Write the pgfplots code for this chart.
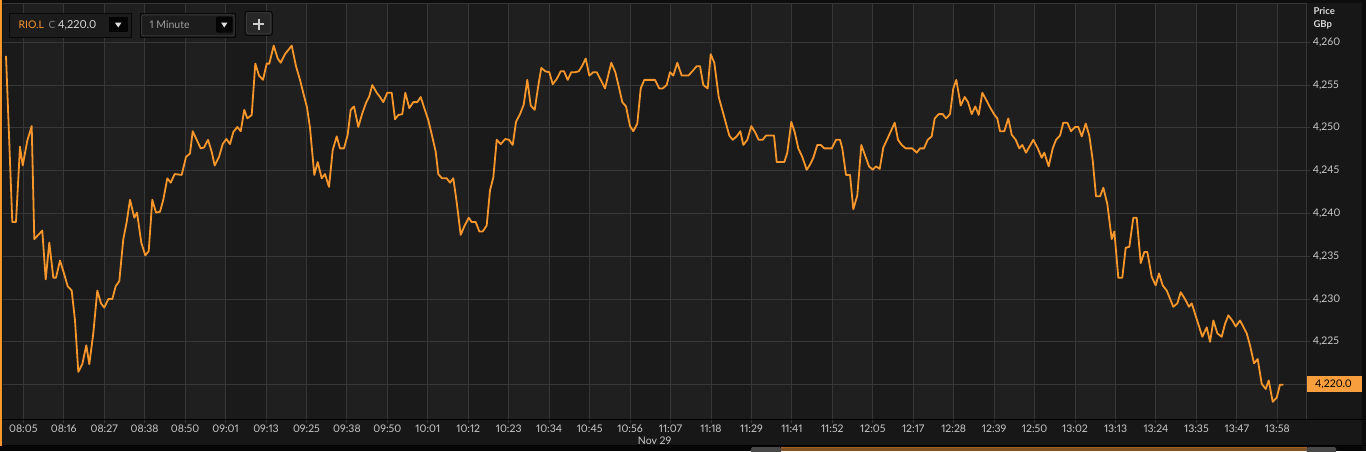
\documentclass[border=0pt]{standalone}
\usepackage{pgfplots}
\usepackage{pgfplotstable}
\pgfplotsset{compat=1.18}
\usepackage{fontspec}
\setmainfont{Lato}[Numbers={Proportional,Lining}]
\definecolor{pagebg}{HTML}{141414}
\definecolor{bgA}{HTML}{1A1A1A}
\definecolor{bgB}{HTML}{1F1F1F}
\definecolor{gridc}{HTML}{373737}
\definecolor{lineo}{HTML}{F7962B}
\definecolor{txt}{HTML}{CACACA}
\definecolor{strip}{HTML}{171717}
\definecolor{brownbar}{HTML}{7F5326}
\definecolor{boxbg}{HTML}{1C1C1C}
\definecolor{boxbd}{HTML}{080808}

\pgfplotstableread{
t v
6 4258.4
12.3 4239.0
16 4239.0
20 4247.8
22.7 4245.6
27.3 4248.5
31.7 4250.2
34.3 4237.0
42.3 4238.0
45.7 4232.3
49.3 4236.6
53.3 4232.5
56 4232.5
60 4234.5
64 4233.0
67.7 4231.5
71.7 4231.0
75 4227.5
78.3 4221.5
82.3 4222.4
86.3 4224.6
89.3 4222.4
93.3 4226.0
97.3 4231.0
101 4229.5
104.3 4229.0
108.3 4230.0
112.3 4230.0
115.7 4231.5
119.3 4232.1
123.3 4237.0
126.7 4239.0
130 4241.6
134.3 4239.5
137 4240.1
141.3 4236.6
145.3 4235.1
148.7 4235.6
152.3 4241.6
156 4240.1
160 4240.2
163.3 4241.6
167.3 4244.1
170.7 4243.6
174.7 4244.6
181.7 4244.5
186 4246.6
190 4247.0
192.7 4249.6
196.7 4248.6
200.7 4247.6
204 4247.7
208 4248.6
211.7 4247.2
214.7 4245.6
219 4246.6
222.7 4248.1
226.3 4248.7
230 4248.1
233.3 4249.5
237.3 4250.1
240.7 4249.6
244.3 4252.1
247.3 4251.1
251.7 4251.5
255.3 4257.5
259 4256.1
263 4255.6
266.7 4257.5
269.3 4257.5
273.7 4259.6
277.7 4258.1
280.7 4257.6
285 4258.6
291.7 4259.6
296 4257.2
300 4255.6
304.3 4253.6
307 4252.4
310 4250.0
314.3 4244.5
317.7 4246.0
321.7 4244.1
325 4244.6
329 4243.1
332.7 4247.4
336.7 4249.0
340 4247.6
344 4247.6
347.7 4249.2
350.7 4252.1
354 4252.5
358.3 4250.1
362.3 4251.7
366 4252.9
369.3 4253.7
372.3 4255.0
376.7 4254.1
380 4253.6
383.3 4253.0
387.3 4254.1
391.7 4254.1
395 4251.0
398.3 4251.5
402.3 4251.6
405.3 4254.1
409.3 4252.3
413.3 4253.0
417.3 4253.0
420.7 4253.6
424.3 4252.3
428.3 4250.9
432 4249.1
435.7 4247.2
438.3 4244.6
442 4244.1
446.7 4244.1
450 4243.6
453.3 4244.1
456.7 4241.3
460.7 4237.5
464.3 4238.5
468.7 4239.5
471.7 4239.0
475.7 4239.0
479.3 4237.9
482.7 4237.9
486.7 4238.6
490 4242.7
493.3 4244.2
496.7 4248.6
500.7 4248.1
505.3 4248.7
509 4248.6
512.7 4248.0
516 4250.7
520 4251.6
523.7 4252.7
527.3 4255.6
530.7 4252.6
534.7 4252.1
538 4254.7
541.3 4257.0
545.3 4256.6
549.3 4256.5
552.7 4255.1
556.7 4255.7
560.7 4256.6
564 4256.6
567.7 4255.6
571.3 4256.5
575.3 4256.5
578.7 4256.6
582 4257.2
585.7 4258.1
589.3 4256.1
593.3 4256.5
596.7 4256.5
600.7 4255.6
605 4254.6
611.3 4257.6
615.3 4256.5
619 4254.7
622.3 4253.0
626 4252.5
630 4250.2
633.3 4249.6
637.3 4250.5
640.7 4254.6
644.3 4255.6
648.3 4255.6
655 4255.6
659.3 4254.6
662.7 4254.6
666.7 4255.0
670 4256.5
673.3 4256.1
677.3 4257.6
681.7 4256.1
688.3 4256.1
692.3 4256.6
696.7 4257.2
700 4257.2
703.3 4255.0
707.7 4254.6
710.7 4258.6
714.3 4257.6
718.7 4253.6
722 4252.2
726 4250.5
729.3 4249.1
732.7 4248.6
736.7 4249.0
740.3 4249.6
743.3 4248.0
747.3 4248.6
751.3 4250.2
755 4249.5
758.7 4248.6
762.7 4248.6
766 4249.1
774 4249.1
776.7 4246.0
784.3 4246.0
787.3 4247.1
791.3 4250.7
794.7 4249.5
798.3 4247.6
802.3 4246.6
806.7 4245.1
810 4245.7
813.3 4246.5
817.3 4248.0
820.7 4248.0
824.3 4247.6
831.7 4247.6
836 4248.6
840 4248.6
842.3 4247.6
846 4244.5
850 4244.5
853.3 4240.5
857.3 4242.1
861.3 4248.0
865 4246.8
869 4245.5
872.7 4245.1
876 4245.5
879.7 4245.2
883.3 4247.7
887.7 4248.8
894.7 4250.6
898 4248.6
901.7 4248.0
905.7 4247.6
912.3 4247.6
916.7 4247.1
920 4247.6
924 4247.6
927.7 4248.6
931.7 4249.0
934.7 4251.1
938.7 4251.6
942.7 4251.6
946 4251.1
950 4251.6
953.3 4254.6
956.3 4255.6
960.7 4252.6
964.7 4253.6
968 4253.0
971.7 4251.6
975.3 4252.5
978.7 4251.5
982.3 4254.1
986 4253.3
990 4252.4
994 4251.6
997.3 4251.1
1000 4249.6
1004.3 4249.6
1008.3 4251.1
1011.7 4249.2
1015.7 4248.6
1019.3 4247.6
1022.3 4248.0
1026 4247.1
1033.3 4248.6
1037.7 4247.6
1041.7 4246.5
1044.3 4247.1
1048.7 4245.5
1052.7 4247.6
1056 4248.6
1060 4249.1
1063.3 4250.6
1067.3 4250.6
1071 4249.6
1075 4250.1
1078.3 4250.1
1081.7 4249.0
1085.7 4250.5
1089.3 4249.1
1092.7 4246.2
1096 4242.0
1100 4242.0
1103.3 4243.0
1107.3 4241.1
1111.7 4237.0
1114.3 4237.9
1118.3 4232.5
1122.3 4232.5
1125.7 4236.0
1129.3 4236.1
1133.3 4239.5
1136.7 4239.5
1140.7 4234.2
1144.3 4235.5
1147.3 4235.5
1151.7 4232.6
1155.7 4231.6
1159 4233.0
1162.7 4231.6
1166.7 4231.0
1173.3 4229.1
1177.3 4229.5
1180.7 4230.8
1185 4230.0
1189 4229.1
1191.7 4229.5
1196 4227.9
1202.3 4225.6
1206.7 4226.7
1210 4225.0
1213.3 4227.5
1217.3 4226.0
1221.7 4225.6
1225 4227.1
1228.3 4228.1
1232.3 4227.5
1235.7 4226.8
1240 4227.5
1246.7 4226.0
1250 4224.6
1254 4222.5
1257.7 4223.0
1261.7 4220.1
1265.7 4219.5
1268.7 4220.5
1272.7 4218.0
1276.7 4218.5
1280 4220.0
1283.3 4220.0
}\prices

\begin{document}
\begin{tikzpicture}[x=1pt,y=1pt]
% ---------- backgrounds (image pixel coordinates, y downwards) ----------
\begin{scope}[yshift=451pt, yscale=-1]
  \fill[pagebg] (0,0) rectangle (1366,451);
  \fill[black!95!white] (0,0) rectangle (1366,3);
  \fill[bgA] (3,3) rectangle (1306,419);
  \foreach \k in {0,2,...,30} {
    \fill[bgB] ({23.3+40.452*\k},3) rectangle ({23.3+40.452*(\k+1)},419);
  }
  \fill[strip] (0,419) rectangle (1306,446);
  \fill[strip] (1306,3) rectangle (1362,446);
  \fill[black!40!pagebg] (1362,0) rectangle (1366,451);
\end{scope}

\begin{axis}[
  at={(3pt,32pt)}, anchor=south west, scale only axis,
  width=1303pt, height=416pt,
  xmin=-5.52, xmax=348.8, ymin=4215.995, ymax=4264.578,
  axis line style={draw=none},
  grid=major, major grid style={draw=gridc, line width=1pt},
  xtick={0,11,...,341},
  xticklabels={08:05,08:16,08:27,08:38,08:50,09:01,09:13,09:25,09:38,09:50,10:01,10:12,10:23,10:34,10:45,10:56,11:07,11:18,11:29,11:41,11:52,12:05,12:17,12:28,12:39,12:50,13:02,13:13,13:24,13:35,13:47,13:58},
  ytick={4220,4225,...,4260},
  yticklabels={{},{4,225},{4,230},{4,235},{4,240},{4,245},{4,250},{4,255},{4,260}},
  xtick pos=bottom, ytick pos=right, yticklabel pos=right,
  tick align=outside, major tick length=4pt,
  tick style={draw=gridc, line width=1pt},
  ticklabel style={text=txt},
  xticklabel style={font=\fontsize{10.5}{11}\selectfont, anchor=center, yshift=-5.9pt},
  yticklabel style={font=\fontsize{10.5}{11}\selectfont, anchor=west, xshift=-0.8pt},
  clip=false,
]
\addplot[lineo, line width=1.8pt, line join=round, no marks]
  table[x expr={(\thisrow{t}-23.3)/3.6775}, y=v] {\prices};
\end{axis}

% ---------- overlays ----------
\begin{scope}[yshift=451pt, yscale=-1]
  % borders
  \draw[gridc, line width=1pt] (3,3.5) -- (1306,3.5);
  \draw[gridc, line width=1pt] (1306,3) -- (1306,419);
  \draw[black, line width=1pt] (0,419.3) -- (1366,419.3);
  \draw[black, line width=1pt] (0,445.7) -- (1366,445.7);
  \fill[lineo] (0,0) rectangle (1.5,446);
  % scroll bar
  \fill[black!70!pagebg] (0,446.2) rectangle (1362,451);
  \fill[black!25!gray!70!pagebg, rounded corners=1.5pt] (751,447) rectangle (781,453);
  \fill[black!25!gray!70!pagebg, rounded corners=1.5pt] (1306.6,447) rectangle (1336,453);
  \fill[brownbar] (781,447.3) rectangle (1306.6,451);
  \draw[brownbar!70!orange, line width=0.8pt] (781,447.6) -- (1306.6,447.6);
  % toolbar box 1
  \filldraw[fill=boxbg, draw=boxbd, line width=1pt] (9.3,13.3) rectangle (131.7,37.3);
  \node[anchor=base west, inner sep=0pt, text=lineo, font=\fontsize{10.5}{11}\selectfont] at (18.3,28.6) {RIO.L};
  \node[anchor=base west, inner sep=0pt, text=gray, font=\fontsize{10}{11}\selectfont] at (48.3,28.6) {C};
  \node[anchor=base west, inner sep=0pt, text=white!85!black, font=\fontsize{11}{12}\selectfont] at (57.8,28.6) {4,220.0};
  \fill[black!85!boxbg] (108.7,17.3) rectangle (127.7,32.3);
  \fill[white!88!black] (114.9,22.6) -- (121.5,22.6) -- (118.2,27.4) -- cycle;
  % toolbar box 2
  \filldraw[fill=boxbg, draw=boxbd, line width=1pt] (140,13.3) rectangle (235.7,37.3);
  \draw[black!78!white, line width=0.8pt, rounded corners=2pt] (141.6,14.9) rectangle (234.1,35.7);
  \node[anchor=base west, inner sep=0pt, text=white!62!black, font=\fontsize{10.5}{11}\selectfont] at (149.3,28.6) {1 Minute};
  \fill[black!85!boxbg, rounded corners=1.5pt] (216,16.7) rectangle (232.7,32.7);
  \fill[white!88!black] (221.1,22.6) -- (227.5,22.6) -- (224.3,27.4) -- cycle;
  % toolbar box 3
  \filldraw[fill=boxbg!95!white, draw=boxbd, line width=1pt, rounded corners=2.5pt] (245,11.3) rectangle (272.3,35.3);
  \draw[black!78!white, line width=0.8pt, rounded corners=2pt] (246.5,12.8) rectangle (270.8,33.8);
  \draw[white!80!black, line width=2.3pt] (253.3,24.3) -- (264.3,24.3);
  \draw[white!80!black, line width=2.3pt] (258.8,18.8) -- (258.8,29.8);
  % right panel header
  \node[anchor=west, inner sep=0pt, text=white!85!black, font=\bfseries\fontsize{9.5}{10}\selectfont] at (1313.3,11) {Price};
  \node[anchor=west, inner sep=0pt, text=white!85!black, font=\bfseries\fontsize{9.5}{10}\selectfont] at (1313.3,25) {GBp};
  % current price box
  \fill[lineo!92!white] (1307,376) rectangle (1362,391.7);
  \node[inner sep=0pt, text=black, font=\fontsize{10.5}{11}\selectfont] at (1333.5,384) {4,220.0};
  % date label
  \node[inner sep=0pt, text=txt, font=\fontsize{10.5}{11}\selectfont] at (654.7,440.5) {Nov 29};
\end{scope}
\pgfresetboundingbox
\useasboundingbox (0,0) rectangle (1366,451);
\end{tikzpicture}
\end{document}
